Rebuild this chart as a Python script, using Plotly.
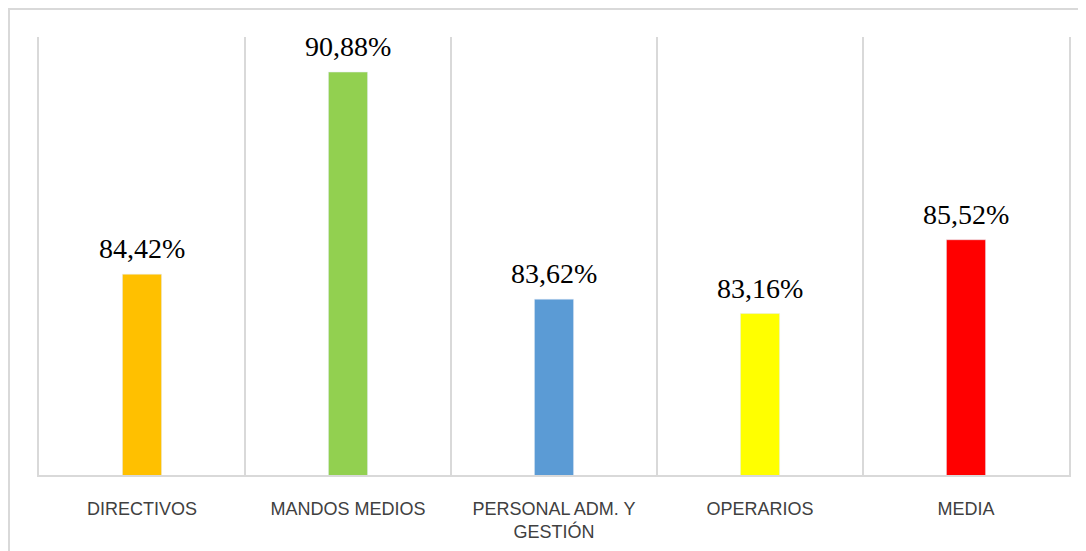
import plotly.graph_objects as go

categories = ["DIRECTIVOS", "MANDOS MEDIOS", "PERSONAL ADM. Y<br>GESTIÓN", "OPERARIOS", "MEDIA"]
values = [84.42, 90.88, 83.62, 83.16, 85.52]
colors = ["#FFC000", "#92D050", "#5B9BD5", "#FFFF00", "#FF0000"]

labels = [f"{v:.2f}".replace(".", ",") + "%" for v in values]

fig = go.Figure(go.Bar(
    x=categories, y=values, marker_color=colors, width=0.19,
    cliponaxis=False, hoverinfo="skip",
))

for c, v, t in zip(categories, values, labels):
    fig.add_annotation(
        x=c, y=v, text=t, showarrow=False, yanchor="bottom", yshift=8,
        font=dict(family="Liberation Serif", size=28, color="#000000"),
    )

# figure sits 8px in from the page edge (default body margin)
W, H = 1078, 543
L, R, T, B = 31, 17, 29, 76
pw, ph = W - L - R, H - T - B

fig.update_layout(
    width=W, height=H,
    margin=dict(l=L, r=R, t=T, b=B, autoexpand=False),
    plot_bgcolor="white", paper_bgcolor="white",
    showlegend=False,
    xaxis=dict(
        type="category", tickson="boundaries", ticks="", showgrid=True,
        gridcolor="#d9d9d9", gridwidth=1.5, showline=True, linecolor="#d9d9d9",
        linewidth=2, range=[-0.5, 4.5], ticklabelstandoff=16, automargin=False,
        tickfont=dict(family="Liberation Sans", size=18, color="#404040"),
    ),
    yaxis=dict(
        range=[78, 92], showticklabels=False, showgrid=False, zeroline=False,
        showline=True, linecolor="#d9d9d9", linewidth=1.5, mirror=True, ticks="",
        automargin=False,
    ),
    shapes=[dict(
        type="rect", xref="paper", yref="paper",
        x0=(1 - L) / pw, x1=(W + 10 - L) / pw,
        y0=(H - B - (H + 10)) / ph, y1=(H - B - 1) / ph,
        line=dict(color="#d9d9d9", width=2), fillcolor="rgba(0,0,0,0)", layer="below",
    )],
)

fig.write_html("out.html")
